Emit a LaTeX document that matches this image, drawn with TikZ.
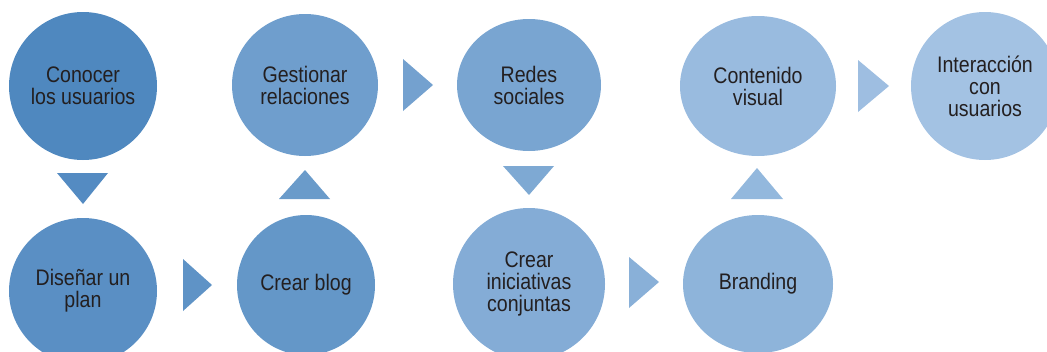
\documentclass[tikz,border=0pt]{standalone}
\usepackage{fontspec}
\setmainfont{Liberation Sans}[FakeStretch=0.87]
\usetikzlibrary{shapes.geometric}
\definecolor{c1}{RGB}{79,136,191}
\definecolor{c2}{RGB}{90,143,196}
\definecolor{c3}{RGB}{100,151,200}
\definecolor{c4}{RGB}{111,158,205}
\definecolor{c5}{RGB}{121,165,209}
\definecolor{c6}{RGB}{132,172,214}
\definecolor{c7}{RGB}{142,180,218}
\definecolor{c8}{RGB}{153,187,223}
\definecolor{c9}{RGB}{163,194,227}
\definecolor{txt}{RGB}{35,31,32}
\begin{document}
\begin{tikzpicture}[x=1pt,y=-1pt,
  stepnode/.style={ellipse,inner sep=0pt,align=center,text=txt,
    font=\fontsize{22.5}{22}\selectfont}]
\useasboundingbox (0,0) rectangle (1047,351);
\node[stepnode,fill=c1,minimum width=148pt,minimum height=148pt] (n1) at (83,86) {Conocer\\los usuarios};
\node[stepnode,fill=c2,minimum width=148pt,minimum height=146pt] (n2) at (83,291) {Diseñar un\\plan};
\node[stepnode,fill=c3,minimum width=138pt,minimum height=140pt] (n3) at (306,285) {Crear blog};
\node[stepnode,fill=c4,minimum width=146pt,minimum height=142pt] (n4) at (305,85) {Gestionar\\relaciones};
\node[stepnode,fill=c5,minimum width=144pt,minimum height=132pt] (n5) at (529,85) {Redes\\sociales};
\node[stepnode,fill=c6,minimum width=152pt,minimum height=152pt] (n6) at (529,284) {Crear\\iniciativas\\conjuntas};
\node[stepnode,fill=c7,minimum width=150pt,minimum height=138pt] (n7) at (758,284) {Branding};
\node[stepnode,fill=c8,minimum width=156pt,minimum height=140pt] (n8) at (758,86) {Contenido\\visual};
\node[stepnode,fill=c9,minimum width=148pt,minimum height=148pt] (n9) at (985,86) {Interacción\\con\\usuarios};
% arrows
\fill[c1!50!c2] (57,173) -- (108,173) -- (83,204) -- cycle;
\fill[c2!50!c3] (183,259) -- (212,285) -- (183,311) -- cycle;
\fill[c3!50!c4] (279,199) -- (330,199) -- (305,170) -- cycle;
\fill[c4!50!c5] (403,59) -- (433,85) -- (403,111) -- cycle;
\fill[c5!50!c6] (503,166) -- (554,166) -- (529,195) -- cycle;
\fill[c6!50!c7] (629,257) -- (659,282) -- (629,308) -- cycle;
\fill[c7!50!c8] (731,199) -- (783,199) -- (757,168) -- cycle;
\fill[c8!50!c9] (858,60) -- (889,86) -- (858,112) -- cycle;
\end{tikzpicture}
\end{document}
